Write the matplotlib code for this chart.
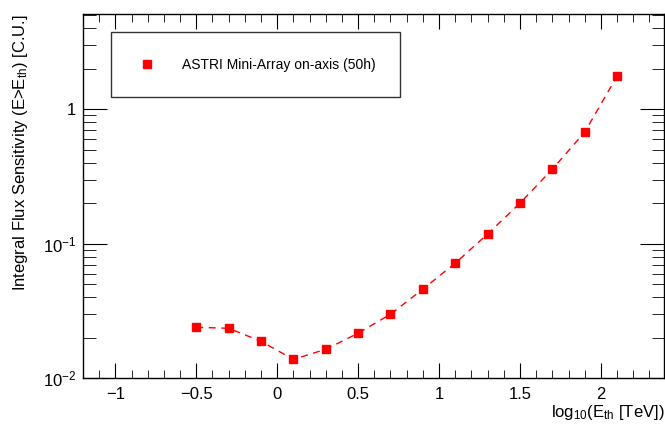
import numpy as np
import matplotlib.pyplot as plt
from matplotlib.ticker import MultipleLocator, LogLocator, NullFormatter, FixedLocator, FixedFormatter

plt.rcParams['font.family'] = ['Liberation Sans', 'DejaVu Sans']
plt.rcParams['mathtext.fontset'] = 'custom'
plt.rcParams['mathtext.rm'] = 'Liberation Sans'
plt.rcParams['mathtext.it'] = 'Liberation Sans'

## DATOS

log_eth = [-0.5, -0.3, -0.1, 0.1, 0.3, 0.5, 0.7, 0.9, 1.1, 1.3, 1.5, 1.7, 1.9, 2.1]
sens = [0.0239, 0.0235, 0.0188, 0.0138, 0.0164, 0.0216, 0.0299, 0.0459,
        0.0716, 0.118, 0.200, 0.358, 0.675, 1.76]
serie = 'ASTRI Mini-Array on-axis (50h)'
yticks = [0.01, 0.1, 1]
ylabels = [r'$10^{-2}$', r'$10^{-1}$', '1']

##################

fig = plt.figure(figsize=(6.65, 4.24), dpi=100)
ax = fig.add_axes([0.1248, 0.108, 0.8737, 0.859])

ax.plot(log_eth, sens, ls=(0, (5, 4)), lw=1.0, color='red')
ax.plot(log_eth, sens, ls='none', marker='s', ms=6, color='red')

ax.set_yscale('log')
ax.set_xlim(-1.2, 2.39)
ax.set_ylim(0.01, 5.1)

## Ticks estilo ROOT
ax.xaxis.set_major_locator(MultipleLocator(0.5))
ax.xaxis.set_minor_locator(MultipleLocator(0.1))
ax.xaxis.set_major_formatter(plt.FuncFormatter(
    lambda v, p: ('\u2212' if v < 0 else '') + ('%g' % abs(v))))
ax.yaxis.set_major_locator(FixedLocator(yticks))
ax.yaxis.set_major_formatter(FixedFormatter(ylabels))
ax.yaxis.set_minor_locator(LogLocator(base=10, subs=np.arange(2, 10)))
ax.yaxis.set_minor_formatter(NullFormatter())

ax.tick_params(axis='both', which='both', direction='in', top=True, right=True,
               labelsize=12, colors='black')
ax.tick_params(axis='x', which='major', length=11, pad=6)
ax.tick_params(axis='x', which='minor', length=6)
ax.tick_params(axis='y', which='major', length=17, pad=5)
ax.tick_params(axis='y', which='minor', length=9)
for s in ax.spines.values():
    s.set_linewidth(1.0)

ax.set_ylabel(r'Integral Flux Sensitivity (E>E$_{\rm th}$) [C.U.]', fontsize=12)
ax.yaxis.set_label_coords(-0.092, 1.0)
ax.yaxis.label.set_ha('right')
fig.text(0.999, 0.028, r'log$_{10}$(E$_{\rm th}$ [TeV])', ha='right', va='center',
         fontsize=12)

## Leyenda
leg = ax.legend([plt.Line2D([], [], ls='none', marker='s', ms=6, color='red')], [serie],
                loc='upper left', bbox_to_anchor=(0.048, 0.75, 0.498, 0.2005),
                bbox_transform=ax.transAxes, mode='expand', borderaxespad=0,
                fancybox=False, edgecolor='black', fontsize=10, handletextpad=1.85,
                borderpad=1.85, handlelength=1.45)
leg.get_frame().set_linewidth(1.0)

fig.savefig('out.png', dpi=100)
